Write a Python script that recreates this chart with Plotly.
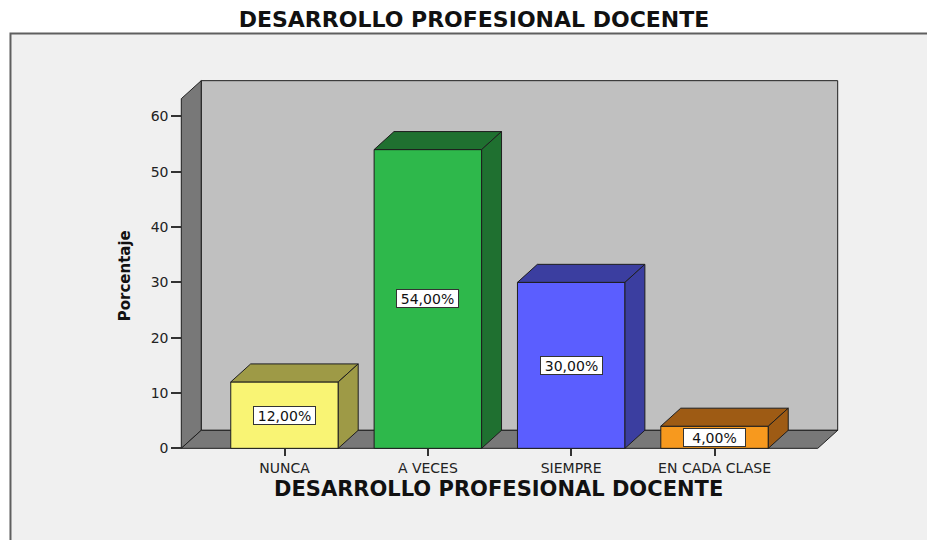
import plotly.graph_objects as go

# ---------------- data ----------------
categories = ["NUNCA", "A VECES", "SIEMPRE", "EN CADA CLASE"]
percentages = [12.0, 54.0, 30.0, 4.0]
front_colors = ["#F9F474", "#2EB84B", "#5B5EFF", "#F7991E"]
dark_colors = ["#9E9A46", "#1F7030", "#3B3EA0", "#9E5B14"]
y_ticks = [0, 10, 20, 30, 40, 50, 60]
title_text = "DESARROLLO PROFESIONAL DOCENTE"
x_title_text = "DESARROLLO PROFESIONAL DOCENTE"
y_title_text = "Porcentaje"

# ---------------- geometry (axis units) ----------------
BAR_W = 0.75
X_LO, X_HI = -0.72, 3.72          # front floor extent
WALL_TOP = 63.2                   # front top of the left wall
DX, DY = 0.139, 3.26              # 3-D depth offset
OUTLINE = "#1e1e1e"

xr = [X_LO - 0.03, X_HI + DX + 0.03]
yr = [-0.3, WALL_TOP + DY + 0.3]

OFF = 0   # body margin removed by post_script
W, H = 927, 540
X0_PX, Y0_PX = 181 - OFF, 448 - OFF
KX, KY = 143.5, 5.52
l = X0_PX - (X_LO - xr[0]) * KX
pw = (xr[1] - xr[0]) * KX
r = W - l - pw
b = H - (Y0_PX + (0 - yr[0]) * KY)
ph = (yr[1] - yr[0]) * KY
t = H - b - ph


def px_x(px):
    return (px - OFF - l) / pw


def px_y(py):
    return (H - b - (py - OFF)) / ph


def poly(fig, xs, ys, color):
    fig.add_trace(go.Scatter(
        x=xs + [xs[0]], y=ys + [ys[0]], mode="lines", fill="toself",
        fillcolor=color, line=dict(color=OUTLINE, width=1),
        hoverinfo="skip", showlegend=False))


fig = go.Figure()

# walls and floor
poly(fig, [X_LO + DX, X_LO + DX, X_HI + DX, X_HI + DX],
     [DY, WALL_TOP + DY, WALL_TOP + DY, DY], "#C0C0C0")
poly(fig, [X_LO, X_LO, X_LO + DX, X_LO + DX],
     [0, WALL_TOP, WALL_TOP + DY, DY], "#787878")
poly(fig, [X_LO, X_HI, X_HI + DX, X_LO + DX],
     [0, 0, DY, DY], "#787878")

# bars
for i, (v, fc, dc) in enumerate(zip(percentages, front_colors, dark_colors)):
    x0, x1 = i - BAR_W / 2, i + BAR_W / 2
    poly(fig, [x0, x1, x1, x0], [0, 0, v, v], fc)
    poly(fig, [x0, x1, x1 + DX, x0 + DX], [v, v, v + DY, v + DY], dc)
    poly(fig, [x1, x1, x1 + DX, x1 + DX], [0, v, v + DY, DY], dc)

# value labels
annotations = []
for i, v in enumerate(percentages):
    annotations.append(dict(
        x=i, y=v / 2, xref="x", yref="y",
        text=f"{v:.2f}".replace(".", ",") + "%", showarrow=False,
        font=dict(family="DejaVu Sans", size=14, color="#111"),
        bgcolor="white", bordercolor="#333", borderwidth=1, borderpad=1,
        width=59, height=15))

# axis titles
annotations.append(dict(
    x=px_x(499), y=px_y(489), xref="paper", yref="paper",
    text=f"<b>{x_title_text}</b>", showarrow=False,
    xanchor="center", yanchor="middle",
    font=dict(family="DejaVu Sans", size=21, color="#111")))
annotations.append(dict(
    x=px_x(125), y=px_y(276), xref="paper", yref="paper",
    text=f"<b>{y_title_text}</b>", showarrow=False, textangle=-90,
    xanchor="center", yanchor="middle",
    font=dict(family="DejaVu Sans", size=15, color="#111")))

fig.update_layout(
    width=W, height=H,
    margin=dict(l=l, r=r, t=t, b=b, autoexpand=False),
    paper_bgcolor="white", plot_bgcolor="rgba(0,0,0,0)",
    title=dict(text=f"<b>{title_text}</b>", x=(474 - OFF) / W,
               y=1 - (19 - OFF) / H,
               xanchor="center", yanchor="middle",
               font=dict(family="DejaVu Sans", size=22, color="#111")),
    xaxis=dict(range=xr, showgrid=False, zeroline=False, showline=False,
               tickmode="array", tickvals=list(range(len(categories))),
               ticktext=categories, ticks="outside", ticklen=7,
               tickwidth=1.5, tickcolor="#333",
               anchor="free", position=(0 - yr[0]) / (yr[1] - yr[0]),
               tickfont=dict(family="DejaVu Sans", size=14, color="#222")),
    yaxis=dict(range=yr, showgrid=False, zeroline=False, showline=False,
               tickmode="array", tickvals=y_ticks, ticks="outside",
               ticklen=10, tickwidth=1.5, tickcolor="#333",
               anchor="free", position=(X_LO - xr[0]) / (xr[1] - xr[0]),
               tickfont=dict(family="DejaVu Sans", size=14, color="#222")),
    annotations=annotations,
    shapes=[dict(type="rect", xref="paper", yref="paper", layer="below",
                 x0=px_x(10), x1=px_x(927 + 40),
                 y0=px_y(540 + 40), y1=px_y(34),
                 fillcolor="#F0F0F0", line=dict(color="#5f5f5f", width=2))],
)

fig.write_html(
    "out.html",
    config={"displayModeBar": False},
    post_script="document.body.style.margin='0';"
                "document.body.style.overflow='hidden';")
